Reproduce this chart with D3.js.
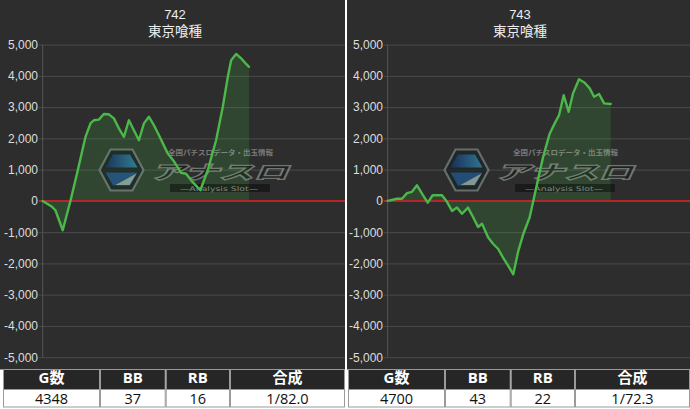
<!DOCTYPE html>
<html><head><meta charset="utf-8">
<script src="https://cdn.jsdelivr.net/npm/d3@7"></script>
<style>html,body{margin:0;padding:0;background:#fff;} svg{display:block}</style>
</head><body><svg id="c" width="690" height="409"></svg>
<script>
// ---------- data ----------
const machineNumbers = ["742", "743"];
const machineName = "東京喰種";
const yTicks = [5000, 4000, 3000, 2000, 1000, 0, -1000, -2000, -3000, -4000, -5000];

const games742 = [0,196,268,422,585,724,902,1007,1077,1183,1288,1394,1500,1605,1711,1816,1922,2028,2133,2239,2344,2450,2634,2773,2915,3020,3162,3322,3478,3654,3795,3901,3971,4076,4182,4287,4348];
const diff742  = [0,-190,-300,-940,0,880,2050,2480,2580,2600,2780,2770,2640,2320,2050,2580,2260,1940,2480,2690,2420,2100,1520,1250,900,870,600,340,980,1940,3010,3970,4500,4700,4560,4380,4290];

const games743 = [0,196,301,407,512,617,723,843,948,1144,1249,1355,1460,1566,1692,1798,1903,1988,2114,2219,2325,2444,2540,2646,2752,2860,2993,3134,3274,3413,3519,3610,3709,3814,3905,4031,4151,4257,4348,4454,4560,4700];
const diff743  = [0,70,70,250,290,500,230,-55,180,180,-30,-320,-215,-410,-215,-515,-835,-730,-1160,-1370,-1530,-1850,-2080,-2350,-1600,-1050,-515,450,1400,2150,2480,2740,3380,2850,3440,3890,3780,3600,3330,3420,3120,3100];

const tableHeaders = ["G数", "BB", "RB", "合成"];
const stats742 = ["4348", "37", "16", "1/82.0"];
const stats743 = ["4700", "43", "22", "1/72.3"];

const panels = [
  {num: machineNumbers[0], games: games742, diff: diff742, stats: stats742},
  {num: machineNumbers[1], games: games743, diff: diff743, stats: stats743}
];

// ---------- drawing ----------
const svg = d3.select("#c");
svg.append("rect").attr("width", 690).attr("height", 409).attr("fill", "#fff");

const defs = svg.append("defs");
const grad = defs.append("linearGradient").attr("id", "hexBlue").attr("x1", "0").attr("x2", "1").attr("y1", "0").attr("y2", "0");
grad.append("stop").attr("offset", "0%").attr("stop-color", "#14306a");
grad.append("stop").attr("offset", "100%").attr("stop-color", "#2f95bd");

const chartFont = "'Liberation Sans', Arial, sans-serif";
const cjkFont = "'Liberation Sans', 'Noto Sans CJK JP', sans-serif";
const tableFont = "'Open Sans', 'Noto Sans CJK JP', sans-serif";

const plotW = 302.3;
const y = d3.scaleLinear().domain([-5000, 5000]).range([357.2, 44.6]);

panels.forEach((p, i) => {
  const ox = i * 345;
  const g = svg.append("g");
  // panel background
  g.append("rect").attr("x", i === 0 ? 0 : 347).attr("y", 0)
    .attr("width", i === 0 ? 345 : 343).attr("height", 369.5).attr("fill", "#2d2d2d");

  const plotLeft = ox + 42.7;
  const x = d3.scaleLinear().domain([0, 6370]).range([plotLeft, plotLeft + plotW]);

  // titles
  g.append("text").attr("x", ox + 175).attr("y", 19.3).attr("text-anchor", "middle")
    .attr("font-family", chartFont).attr("font-size", 13).attr("fill", "#eeeeee").text(p.num);
  g.append("text").attr("x", ox + 175).attr("y", 36).attr("text-anchor", "middle")
    .attr("font-family", cjkFont).attr("font-size", 13.5).attr("fill", "#eeeeee").text(machineName);

  // y axis with grid
  const axis = d3.axisLeft(y).tickValues(yTicks)
    .tickFormat(d => d3.format(",")(d).replace("\u2212", "-"))
    .tickSize(-plotW).tickPadding(4.7);
  const ag = g.append("g").attr("transform", `translate(${plotLeft},0)`).call(axis);
  ag.select(".domain").remove();
  ag.selectAll(".tick line").attr("x1", -4).attr("stroke", d => d === 0 ? "none" : "#4b4b4b").attr("stroke-width", 1);
  ag.selectAll(".tick text").attr("font-family", chartFont).attr("font-size", 12).attr("fill", "#dddddd");
  g.append("line").attr("x1", plotLeft).attr("x2", plotLeft).attr("y1", y(5000)).attr("y2", y(-5000))
    .attr("stroke", "#555").attr("stroke-width", 1);

  const pts = p.games.map((gm, k) => [gm, p.diff[k]]);

  // area fill to zero
  const area = d3.area().x(d => x(d[0])).y0(y(0)).y1(d => y(d[1]));
  g.append("path").datum(pts).attr("d", area).attr("fill", "rgba(62,170,62,0.2)");

  // zero line
  g.append("line").attr("x1", plotLeft - 4).attr("x2", plotLeft + plotW)
    .attr("y1", y(0)).attr("y2", y(0)).attr("stroke", "#b3262a").attr("stroke-width", 2);

  // watermark
  const w = g.append("g").attr("opacity", 0.7);
  const hx = ox + 121.5, hy = 170;
  const hex = (r, h) => [[-r, 0], [-r / 2, -h], [r / 2, -h], [r, 0], [r / 2, h], [-r / 2, h]].map(q => [hx + q[0], hy + q[1]]);
  w.append("polygon").attr("points", hex(22, 20.5).join(" ")).attr("fill", "#1b2424").attr("stroke", "#7c8a88").attr("stroke-width", 2.2);
  w.append("polygon").attr("points", [[hx - 16, hy - 2.5], [hx - 8.5, hy - 15.5], [hx + 8.5, hy - 15.5], [hx + 16, hy - 2.5]].join(" ")).attr("fill", "url(#hexBlue)");
  w.append("polygon").attr("points", [[hx - 16, hy + 2.5], [hx + 16, hy + 2.5], [hx + 8.5, hy + 15.5], [hx - 8.5, hy + 15.5]].join(" ")).attr("fill", "#1f5a95");
  w.append("polygon").attr("points", [[hx + 15, hy + 3.5], [hx + 8, hy + 15], [hx - 6, hy + 15]].join(" ")).attr("fill", "#a9c4bc");
  w.append("text").attr("x", ox + 168).attr("y", 155).attr("font-family", "'Noto Sans CJK JP', sans-serif")
    .attr("font-size", 7).attr("font-weight", "bold").attr("fill", "rgba(225,225,225,0.6)")
    .attr("textLength", 105).attr("lengthAdjust", "spacingAndGlyphs").text("全国パチスロデータ・出玉情報");
  w.append("text").attr("x", ox + 150).attr("y", 179.3).attr("font-family", "'Noto Sans CJK JP', sans-serif")
    .attr("font-size", 18.5).attr("font-weight", "900").attr("font-style", "italic")
    .attr("fill", "rgba(8,16,8,0.55)").attr("stroke", "rgba(175,185,178,0.75)").attr("stroke-width", 1.2)
    .attr("textLength", 138).attr("lengthAdjust", "spacingAndGlyphs").text("アナスロ");
  w.append("rect").attr("x", ox + 170).attr("y", 184).attr("width", 100).attr("height", 8).attr("fill", "rgba(0,0,0,0.6)");
  w.append("text").attr("x", ox + 180).attr("y", 191.3).attr("font-family", "'DejaVu Sans', sans-serif")
    .attr("font-size", 6.5).attr("fill", "rgba(200,200,200,0.8)")
    .attr("textLength", 78).attr("lengthAdjust", "spacingAndGlyphs").text("—Analysis Slot—");

  // line
  const line = d3.line().x(d => x(d[0])).y(d => y(d[1]));
  g.append("path").datum(pts).attr("d", line).attr("fill", "none")
    .attr("stroke", "#4cb84a").attr("stroke-width", 2.4).attr("stroke-linejoin", "round").attr("stroke-linecap", "round");

  // table
  const bounds = [ox + 3, ox + 100, ox + 165.7, ox + 230, ox + 345];
  const t = g.append("g");
  tableHeaders.forEach((h, k) => {
    const x0 = bounds[k], x1 = bounds[k + 1];
    t.append("rect").attr("x", x0 + 0.5).attr("y", 369.5).attr("width", x1 - x0 - 1).attr("height", 20)
      .attr("fill", "#262626").attr("stroke", "#9a9a9a").attr("stroke-width", 1);
    t.append("rect").attr("x", x0 + 0.5).attr("y", 389.5).attr("width", x1 - x0 - 1).attr("height", 17.5)
      .attr("fill", "#ffffff").attr("stroke", "#9a9a9a").attr("stroke-width", 1);
    t.append("text").attr("x", (x0 + x1) / 2).attr("y", 383.3).attr("text-anchor", "middle")
      .attr("font-family", tableFont).attr("font-size", 15).attr("font-weight", "bold").attr("fill", "#ffffff").text(h);
    t.append("text").attr("x", (x0 + x1) / 2).attr("y", 403.6).attr("text-anchor", "middle")
      .attr("font-family", tableFont).attr("font-size", 14.5).attr("fill", "#111111").text(p.stats[k]);
  });
});
</script>
</body></html>
